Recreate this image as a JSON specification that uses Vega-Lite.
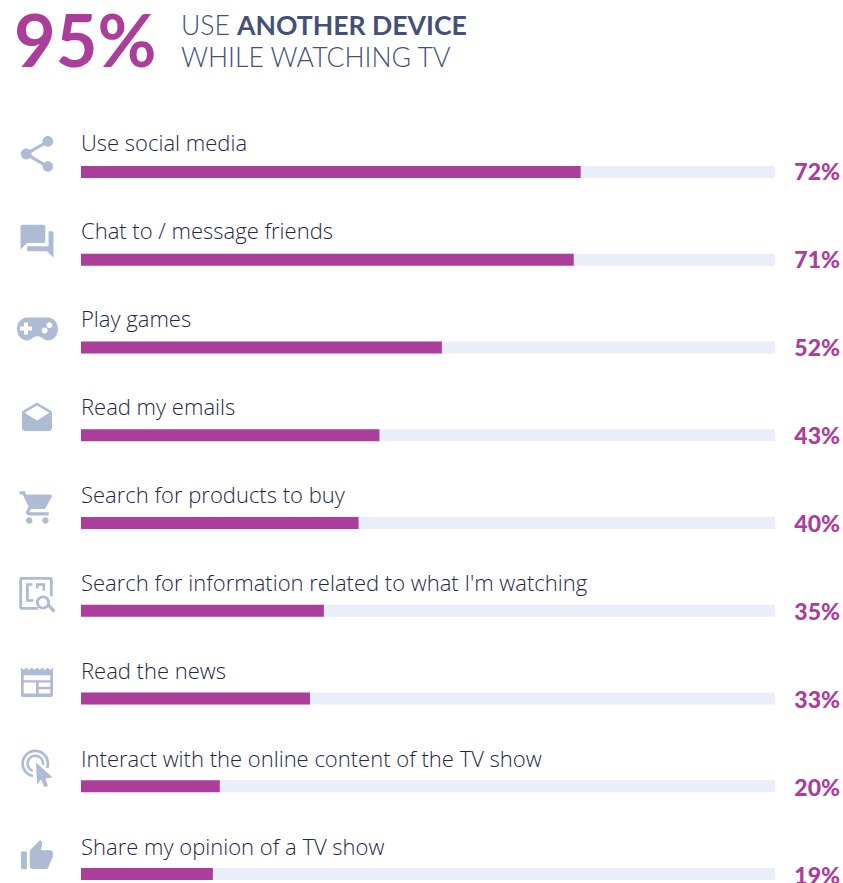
{"$schema":"https://vega.github.io/schema/vega-lite/v6.json","width":843,"height":883,"padding":0,"autosize":{"type":"none"},"background":"white","view":{"stroke":null},
"datasets":{"rows":[
{"activity":"Use social media","share":72,"label":"72%"},
{"activity":"Chat to / message friends","share":71,"label":"71%"},
{"activity":"Play games","share":52,"label":"52%"},
{"activity":"Read my emails","share":43,"label":"43%"},
{"activity":"Search for products to buy","share":40,"label":"40%"},
{"activity":"Search for information related to what I'm watching","share":35,"label":"35%"},
{"activity":"Read the news","share":33,"label":"33%"},
{"activity":"Interact with the online content of the TV show","share":20,"label":"20%"},
{"activity":"Share my opinion of a TV show","share":19,"label":"19%"}]},
"data":{"name":"rows"},
"resolve":{"scale":{"y":"independent"}},
"layer":[
{"layer":[
{"mark":{"type":"bar","size":12,"color":"#EAEEF9"},"encoding":{"y":{"field":"activity","type":"nominal","axis":null,"scale":{"type":"point","padding":0,"domain":["header","Use social media","Chat to / message friends","Play games","Read my emails","Search for products to buy","Search for information related to what I'm watching","Read the news","Interact with the online content of the TV show","Share my opinion of a TV show"],"range":[84.25,874]}},"x":{"datum":100,"type":"quantitative","axis":null,"scale":{"domain":[0,100],"range":[81,775]}},"x2":{"datum":0}}},
{"mark":{"type":"bar","size":12,"color":"#AB3E9B"},"encoding":{"y":{"field":"activity","type":"nominal"},"x":{"field":"share","type":"quantitative"},"x2":{"datum":0}}},
{"mark":{"type":"point","filled":true,"opacity":1,"fill":"#AEBBD4","stroke":null,"strokeWidth":0,"xOffset":-44,"yOffset":-18},"encoding":{"y":{"field":"activity","type":"nominal"},"x":{"datum":0,"type":"quantitative"},
"shape":{"field":"activity","type":"nominal","legend":null,"scale":{"domain":["Use social media","Chat to / message friends","Play games","Read my emails","Search for products to buy","Search for information related to what I'm watching","Read the news","Interact with the online content of the TV show","Share my opinion of a TV show"],"range":[
"M6 4.08c-.76 0-1.44.3-1.96.77L-3.09 .7c.05-.23.09-.46.09-.7s-.04-.47-.09-.7l7.05-4.11c.54.5 1.25.81 2.04.81 1.66 0 3-1.34 3-3s-1.34-3-3-3-3 1.34-3 3c0 .24.04.47.09.7L-3.96 -2.19C-4.5 -2.69 -5.21 -3 -6 -3c-1.66 0-3 1.34-3 3s1.34 3 3 3c.79 0 1.5-.31 2.04-.81l7.12 4.16c-.05.21-.08.43-.08.65 0 1.61 1.31 2.92 2.92 2.92 1.61 0 2.92-1.31 2.92-2.92s-1.31-2.92-2.92-2.92z",
"M9 -6.3h-2v9H-6v2c0 .55.45 1 1 1h11l4 4V-5.3c0-.55-.45-1-1-1zm-4 6V-9.3c0-.55-.45-1-1-1H-9c-.55 0-1 .45-1 1v14l4-4h10c.55 0 1-.45 1-1z",
"M-10 -12H11A10 11.5 0 0 1 21 -0.5A10 11.5 0 0 1 11 11C7 11 5 6.7 0.5 6.7C-4 6.7 -6 11 -10 11A10 11.5 0 0 1 -20 -0.5A10 11.5 0 0 1 -10 -12ZM-13 -7V-3H-17V1H-13V5H-9V1H-5V-3H-9V-7ZM4.7 1A3 3 0 0 0 10.7 1A3 3 0 0 0 4.7 1ZM9.3 -4.3A3 3 0 0 0 15.3 -4.3A3 3 0 0 0 9.3 -4.3Z",
"M9.99 -2.83c0-.72-.37-1.35-.94-1.7L0 -9.83 -9.05 -4.53C-9.62 -4.18 -10 -3.55 -10 -2.83v10c0 1.1.9 2 2 2h16c1.1 0 2-.9 2-2l-.01-10zM0 2.17L-8.26 -2.99 0 -7.83l8.26 4.84L0 2.17z",
"M-4.8 7.54c-1.1 0-1.99.9-1.99 2S-5.9 11.54 -4.8 11.54s2-.9 2-2-.9-2-2-2zM-10.8 -8.46v2h2l3.6 7.59-1.35 2.45c-.16.28-.25.61-.25.96 0 1.1.9 2 2 2h12v-2H-4.38c-.14 0-.25-.11-.25-.25l.03-.12.9-1.63h7.45c.75 0 1.41-.41 1.75-1.03l3.58-6.49c.08-.14.12-.31.12-.48 0-.55-.45-1-1-1H-6.59l-.94-2H-10.8zm16 16c-1.1 0-1.99.9-1.99 2s.89 2 1.99 2 2-.9 2-2-.9-2-2-2z",
"M-15.7 -15.7H13.7Q15.7 -15.7 15.7 -13.7V3.5H12.9V-12.9H-14.9V14.2H1V17H-15.7Q-17.7 17 -17.7 15V-13.7Q-17.7 -15.7 -15.7 -15.7ZM-11 -9.5H-4.5V-7H-8.2V6.5H-3.5V9H-11ZM-1 -9.5H8V-2H5.5V-7H1.5V-4.5H-1ZM-1 9.7A7 7 0 0 1 13 9.7A7 7 0 0 1 -1 9.7ZM1.8 9.7A4.2 4.2 0 0 0 10.2 9.7A4.2 4.2 0 0 0 1.8 9.7ZM10.5 13.5L12.8 11.5L18.5 17.5L16 20Z",
"M-16 -13L-13.3 -10.5L-10.7 -13L-8 -10.5L-5.3 -13L-2.7 -10.5L0 -13L2.7 -10.5L5.3 -13L8 -10.5L10.7 -13L13.3 -10.5L16 -13V14.5Q16 16.5 14 16.5H-14Q-16 16.5 -16 14.5ZM-13.3 -5.3V-.3H13.3V-5.3ZM-13.3 2V13H-1V2ZM1.7 2V6.3H13.3V2ZM1.7 8.7V13H13.3V8.7Z",
"M11.46 .09A14 14 0 1 0 -4.13 9.09L-3.66 6.43A11.3 11.3 0 1 1 8.92 -.84ZM7.17 -3.14A9 9 0 1 0 -4.78 3.76L-3.92 1.41A6.5 6.5 0 1 1 4.7 -3.57ZM-1 -5.7L15.7 9.3L8.3 10.3L11 17.7L7.3 18.7L4 11.3L0 16.3Z",
"M-11 8.97h4V-3.03H-11v12zm22-11c0-1.1-.9-2-2-2h-6.31l.95-4.57.03-.32c0-.41-.17-.79-.44-1.06L2.17 -11.03 -4.41 -4.44C-4.78 -4.08 -5 -3.58 -5 -3.03v10c0 1.1.9 2 2 2h9c.83 0 1.54-.5 1.84-1.22l3.02-7.05c.09-.23.14-.47.14-.73v-2z"
]}},
"size":{"field":"activity","type":"nominal","legend":null,"scale":{"type":"ordinal","domain":["Use social media","Chat to / message friends","Play games","Read my emails","Search for products to buy","Search for information related to what I'm watching","Read the news","Interact with the online content of the TV show","Share my opinion of a TV show"],"range":[12.96,10.89,4,9,10.5,4,4,4,8.41]}}}}
]},
{"layer":[
{"mark":{"type":"text","font":"Open Sans","fontSize":22,"fontWeight":300,"align":"left","baseline":"alphabetic","dx":0,"dy":-21,"color":"#1F2744"},"encoding":{"y":{"field":"activity","type":"nominal","axis":null,"scale":{"type":"point","padding":0,"domain":["header","Use social media","Chat to / message friends","Play games","Read my emails","Search for products to buy","Search for information related to what I'm watching","Read the news","Interact with the online content of the TV show","Share my opinion of a TV show"],"range":[84,876]}},"x":{"datum":0,"type":"quantitative"},"text":{"field":"activity"}}},
{"mark":{"type":"text","font":"Lato","fontSize":23,"fontWeight":900,"align":"right","baseline":"middle","dx":65,"dy":1,"color":"#AB3E9B"},"encoding":{"y":{"field":"activity","type":"nominal"},"x":{"datum":100,"type":"quantitative"},"text":{"field":"label"}}},
{"data":{"values":[{"piece":"95%"}]},"mark":{"type":"text","font":"Lato","fontSize":72,"fontWeight":700,"align":"left","baseline":"alphabetic","dx":-67,"dy":-17,"color":"#AB3E9B"},"encoding":{"y":{"datum":"header","type":"nominal"},"x":{"datum":0,"type":"quantitative"},"text":{"field":"piece"}}},
{"data":{"values":[{"piece":"USE"}]},"mark":{"type":"text","font":"Lato","fontSize":26.6,"fontWeight":300,"align":"left","baseline":"alphabetic","dx":100,"dy":-49,"color":"#44507A"},"encoding":{"y":{"datum":"header","type":"nominal"},"x":{"datum":0,"type":"quantitative"},"text":{"field":"piece"}}},
{"data":{"values":[{"piece":"WHILE WATCHING TV"}]},"mark":{"type":"text","font":"Lato","fontSize":26.6,"fontWeight":300,"align":"left","baseline":"alphabetic","dx":100,"dy":-17,"color":"#44507A"},"encoding":{"y":{"datum":"header","type":"nominal"},"x":{"datum":0,"type":"quantitative"},"text":{"field":"piece"}}},
{"data":{"values":[{"piece":"ANOTHER DEVICE"}]},"mark":{"type":"text","font":"Lato","fontSize":26.6,"fontWeight":700,"align":"left","baseline":"alphabetic","dx":156,"dy":-49,"color":"#44507A"},"encoding":{"y":{"datum":"header","type":"nominal"},"x":{"datum":0,"type":"quantitative"},"text":{"field":"piece"}}}
]}
]}
